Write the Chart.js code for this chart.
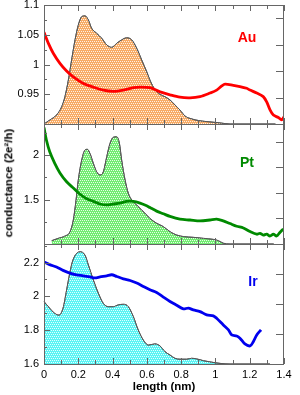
<!DOCTYPE html>
<html><head><meta charset="utf-8">
<script src="https://cdn.jsdelivr.net/npm/chart.js@4.4.1/dist/chart.umd.min.js"></script>
<style>
html,body{margin:0;padding:0;background:#fff;}
#wrap{position:relative;width:300px;height:395px;overflow:hidden;font-family:'Liberation Sans',Arial,sans-serif;}
canvas{position:absolute;left:0;top:0;}
.lbl{position:absolute;transform:translate(-50%,-50%);font-weight:bold;white-space:nowrap;line-height:1;}
</style></head><body>
<div id="wrap">
<canvas id="cAu" width="300" height="395"></canvas>
<canvas id="cPt" width="300" height="395"></canvas>
<canvas id="cIr" width="300" height="395"></canvas>
<div class="lbl" style="left:247px;top:37px;color:#ff0000;font-size:14px">Au</div>
<div class="lbl" style="left:247px;top:162px;color:#008a00;font-size:14px">Pt</div>
<div class="lbl" style="left:253px;top:281px;color:#0000ee;font-size:14px">Ir</div>
<div class="lbl" style="left:9px;top:183px;font-size:11.5px;transform:translate(-50%,-50%) rotate(-90deg)">conductance (2e²/h)</div>
<div class="lbl" style="left:164px;top:387px;font-size:11.5px">length (nm)</div>
</div>
<script>
// ---- data ----
const xTickValues = [0, 0.2, 0.4, 0.6, 0.8, 1, 1.2, 1.4];

const auLineX = [0,0.025,0.054,0.093,0.132,0.171,0.23,0.288,0.346,0.404,0.463,0.521,0.56,0.618,0.677,0.735,0.793,0.852,0.91,0.968,1.007,1.037,1.056,1.104,1.143,1.182,1.202,1.241,1.279,1.299,1.318,1.338,1.367,1.386,1.4];
const auLineY = [1.054,1.036,1.019,1.002,0.989,0.979,0.968,0.962,0.957,0.955,0.957,0.961,0.962,0.961,0.954,0.949,0.945,0.944,0.946,0.952,0.957,0.964,0.967,0.965,0.963,0.960,0.957,0.952,0.946,0.937,0.924,0.915,0.911,0.907,0.912];
const auHistX = [0,0.034,0.073,0.103,0.122,0.142,0.161,0.181,0.2,0.22,0.239,0.259,0.278,0.307,0.337,0.366,0.395,0.424,0.453,0.482,0.512,0.541,0.57,0.599,0.618,0.648,0.677,0.706,0.735,0.764,0.793,0.823,0.852,0.91,0.968,1.027,1.085,1.35];
const auHistY = [0,0.15,0.34,0.65,1.03,1.66,2.42,3.18,3.74,4.06,4.09,3.93,3.62,3.43,3.24,2.99,2.90,3.05,3.18,3.26,3.18,2.86,2.42,1.98,1.66,1.29,1.12,1.03,0.91,0.72,0.53,0.30,0.21,0.12,0.08,0.04,0,0];
const auYLabels = [0.95, 1, 1.05, 1.1];

const ptLineX = [0,0.014,0.033,0.062,0.093,0.132,0.171,0.21,0.249,0.288,0.327,0.366,0.404,0.443,0.482,0.521,0.56,0.599,0.618,0.657,0.696,0.735,0.793,0.852,0.91,0.968,1.007,1.046,1.085,1.124,1.163,1.202,1.241,1.26,1.279,1.299,1.318,1.338,1.357,1.376,1.396];
const ptLineY = [2.31,2.17,2.04,1.91,1.80,1.70,1.63,1.56,1.51,1.48,1.45,1.44,1.45,1.46,1.48,1.48,1.46,1.43,1.41,1.37,1.34,1.31,1.28,1.27,1.26,1.27,1.28,1.26,1.23,1.20,1.18,1.14,1.11,1.12,1.10,1.11,1.09,1.11,1.09,1.13,1.17];
const ptHistX = [0.045,0.083,0.122,0.152,0.171,0.187,0.2,0.22,0.239,0.253,0.268,0.288,0.307,0.327,0.346,0.366,0.385,0.404,0.424,0.44,0.453,0.473,0.492,0.512,0.541,0.57,0.599,0.618,0.657,0.696,0.735,0.774,0.813,0.871,0.93,0.988,1.017,1.046,1.085,1.34];
const ptHistY = [0.13,0.22,0.31,0.48,0.94,1.72,2.50,3.28,3.67,3.70,3.54,3.15,2.82,2.70,2.82,3.41,3.93,4.17,4.19,3.93,3.28,2.50,1.98,1.72,1.52,1.33,1.13,1.00,0.81,0.68,0.48,0.35,0.29,0.26,0.22,0.18,0.13,0.03,0,0];
const ptYLabels = [1.5, 2];

const irLineX = [0,0.033,0.073,0.111,0.15,0.189,0.229,0.268,0.297,0.327,0.366,0.395,0.424,0.463,0.502,0.541,0.579,0.618,0.657,0.696,0.735,0.774,0.813,0.842,0.871,0.91,0.949,0.988,1.007,1.046,1.076,1.095,1.124,1.143,1.172,1.202,1.221,1.241,1.266];
const irLineY = [2.204,2.188,2.174,2.154,2.138,2.128,2.122,2.115,2.109,2.115,2.122,2.128,2.118,2.104,2.094,2.079,2.059,2.039,2.023,1.996,1.970,1.948,1.926,1.931,1.920,1.910,1.891,1.885,1.871,1.831,1.802,1.772,1.766,1.753,1.719,1.707,1.732,1.772,1.802];
const irHistX = [0,0.033,0.062,0.087,0.111,0.132,0.15,0.169,0.21,0.239,0.259,0.288,0.317,0.346,0.375,0.404,0.433,0.463,0.492,0.521,0.55,0.579,0.609,0.647,0.677,0.706,0.735,0.764,0.793,0.832,0.861,0.89,0.93,0.968,1.027,1.085,1.318];
const irHistY = [2.08,1.86,1.69,1.63,1.86,2.47,3.02,3.47,3.74,3.63,3.30,2.80,2.36,2.02,1.91,1.91,1.97,1.99,1.91,1.58,1.13,0.80,0.63,0.67,0.60,0.41,0.30,0.19,0.16,0.16,0.19,0.17,0.11,0.07,0.02,0,0];
const irYLabels = [1.6, 1.8, 2, 2.2];

// ---- helpers ----
const FONT = "'Liberation Sans', Arial, sans-serif";
const near = (a, b) => Math.abs(a - b) < 1e-6;
const fmt = v => String(parseFloat(v.toFixed(3)));
const pts = (X, Y) => X.map((x, i) => ({x: x, y: Y[i]}));

// light dot texture over the histogram fill, clipped to the histogram path
function texturePlugin(light) {
  return {
    id: 'texture',
    afterDatasetDraw(chart, args) {
      if (args.index !== 1) return;
      const {ctx, chartArea: a} = chart;
      const el = args.meta.dataset;
      const p = args.meta.data;
      if (!p.length) return;
      const y0 = chart.scales.yR.getPixelForValue(0);
      ctx.save();
      ctx.beginPath();
      ctx.rect(a.left, a.top, a.right - a.left, a.bottom - a.top);
      ctx.clip();
      ctx.beginPath();
      el.path(ctx);
      ctx.lineTo(p[p.length - 1].x, y0);
      ctx.lineTo(p[0].x, y0);
      ctx.closePath();
      ctx.clip();
      ctx.fillStyle = light;
      for (let yy = Math.floor(a.top); yy < a.bottom; yy += 2) {
        for (let xx = Math.floor(a.left) + ((yy >> 1) % 2); xx < a.right; xx += 2) {
          ctx.fillRect(xx, yy, 1, 1);
        }
      }
      ctx.restore();
      el.draw(ctx, a);
    }
  };
}

function tickPlugin(majorStep, yMin) {
  return {
    id: 'inTicks',
    afterDatasetsDraw(chart) {
      const {ctx, chartArea: a, scales} = chart;
      const x = scales.x, y = scales.y, yR = scales.yR;
      ctx.save();
      ctx.strokeStyle = '#666';
      ctx.lineWidth = 1;
      ctx.beginPath();
      for (let i = 0; i <= 14; i++) {
        const px = Math.round(x.getPixelForValue(i / 10)) + 0.5;
        const L = (i % 2 === 0) ? 6 : 4;
        ctx.moveTo(px, a.top); ctx.lineTo(px, a.top + L);
        ctx.moveTo(px, a.bottom); ctx.lineTo(px, a.bottom - L);
      }
      y.ticks.forEach(t => {
        const py = Math.round(y.getPixelForValue(t.value)) + 0.5;
        const r = (t.value - yMin) / majorStep;
        const L = Math.abs(r - Math.round(r)) < 1e-6 ? 6 : 3;
        ctx.moveTo(a.left, py); ctx.lineTo(a.left + L, py);
      });
      for (let k = 1; k < yR.max - 1e-6; k++) {
        const py = Math.round(yR.getPixelForValue(k)) + 0.5;
        ctx.moveTo(a.right, py); ctx.lineTo(a.right - 8, py);
      }
      ctx.stroke();
      ctx.strokeRect(Math.round(a.left) + 0.5, Math.round(a.top) + 0.5,
                     Math.round(a.right - a.left) - 1, Math.round(a.bottom - a.top));
      ctx.restore();
    }
  };
}

function zeroPad(s) { s.paddingTop = 0; s.paddingBottom = 0; s.paddingLeft = 0; s.paddingRight = 0; }

function makeChart(id, o) {
  new Chart(document.getElementById(id), {
    type: 'line',
    data: {
      datasets: [
        {data: pts(o.lx, o.ly), yAxisID: 'y', borderColor: o.lineColor, borderWidth: 2.8,
         pointRadius: 0, tension: 0.3, fill: false, order: 0},
        {data: pts(o.hx, o.hy), yAxisID: 'yR', borderColor: '#555', borderWidth: 1,
         backgroundColor: o.fillColor, fill: 'origin', pointRadius: 0,
         cubicInterpolationMode: 'monotone', order: 1}
      ]
    },
    options: {
      responsive: false, animation: false, devicePixelRatio: 1,
      layout: {padding: {left: 0, right: 0, top: o.padTop, bottom: o.padBottom}},
      plugins: {legend: {display: false}, tooltip: {enabled: false}},
      scales: {
        x: {
          type: 'linear', min: 0, max: 1.4,
          grid: {display: false, drawTicks: false}, border: {display: false},
          ticks: {
            display: o.showX, stepSize: 0.2, autoSkip: false, includeBounds: false,
            padding: 4, color: '#000', font: {family: FONT, size: 11},
            callback: v => xTickValues.some(t => near(t, v)) ? fmt(v) : ''
          },
          afterFit: s => { s.height = o.showX ? 31 : 0; zeroPad(s); }
        },
        y: {
          position: 'left', min: o.ymin, max: o.ymax,
          grid: {display: false, drawTicks: false}, border: {display: false},
          ticks: {
            stepSize: o.ystep, autoSkip: false, includeBounds: false,
            padding: 5, color: '#000', font: {family: FONT, size: 11},
            callback: v => o.ylabels.some(t => near(t, v)) ? fmt(v) : ''
          },
          afterFit: s => { s.width = 44; zeroPad(s); }
        },
        yR: {
          position: 'right', min: 0, max: o.rmax,
          grid: {display: false, drawTicks: false}, border: {display: false},
          ticks: {display: false},
          afterFit: s => { s.width = 16; zeroPad(s); }
        }
      }
    },
    plugins: [texturePlugin(o.fillLight), tickPlugin(o.majorStep, o.ymin)]
  });
}

makeChart('cAu', {
  lx: auLineX, ly: auLineY, hx: auHistX, hy: auHistY, lineColor: '#ff0000',
  fillColor: '#f7ab66', fillLight: '#fff2e4',
  ymin: 0.9, ymax: 1.1, ystep: 0.025, majorStep: 0.05, ylabels: auYLabels, rmax: 4.5,
  padTop: 5, padBottom: 271, showX: false
});
makeChart('cPt', {
  lx: ptLineX, ly: ptLineY, hx: ptHistX, hy: ptHistY, lineColor: '#008a00',
  fillColor: '#72ec72', fillLight: '#e6fde6',
  ymin: 1.0, ymax: 2.35, ystep: 0.25, majorStep: 0.5, ylabels: ptYLabels, rmax: 4.69,
  padTop: 124, padBottom: 151, showX: false
});
makeChart('cIr', {
  lx: irLineX, ly: irLineY, hx: irHistX, hy: irHistY, lineColor: '#0000ee',
  fillColor: '#5af4f4', fillLight: '#e4fefe',
  ymin: 1.6, ymax: 2.31, ystep: 0.1, majorStep: 0.2, ylabels: irYLabels, rmax: 4.0,
  padTop: 244, padBottom: 0, showX: true
});
</script>
</body></html>
